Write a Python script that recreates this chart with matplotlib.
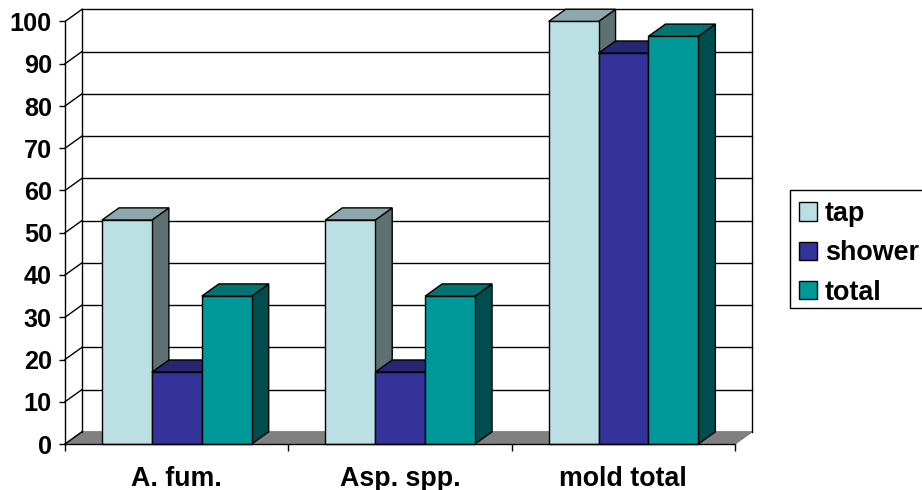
import matplotlib
matplotlib.use("Agg")
import matplotlib.pyplot as plt
from matplotlib.patches import Polygon, Patch, Rectangle

plt.rcParams['font.family'] = ['Liberation Sans', 'DejaVu Sans']
plt.rcParams['font.weight'] = 'bold'

categories = ['A. fum.', 'Asp. spp.', 'mold total']
series_names = ['tap', 'shower', 'total']
tap = [53, 53, 100]
shower = [17, 17, 92.5]
total = [35, 35, 96.5]
y_ticks = [0, 10, 20, 30, 40, 50, 60, 70, 80, 90, 100]

front_colors = ['#BBE0E3', '#333399', '#009999']
top_colors = ['#8CA8AA', '#262673', '#007373']
side_colors = ['#5E7072', '#1A1A4D', '#004D4D']

W, H = 922, 490
fig = plt.figure(figsize=(W / 100, H / 100), dpi=100)
ax = fig.add_axes([65 / W, (H - 444) / H, 670 / W, 422.5 / H])
ax.set_xlim(0, 3)
ax.set_ylim(0, 100)

# depth of the fake 3d box, in data units
DX = 17 / (670 / 3)
DY = 12.2 / 4.225
BAR_W = 0.2235
GROUP_START = 0.1655
LW = 1.0
FS = 18.2
FS_CAT = 19.3
FS_LEG = 19.4


def poly(points, color, z, edge='black'):
    ax.add_patch(Polygon(points, closed=True, facecolor=color, edgecolor=edge,
                         linewidth=LW, zorder=z, clip_on=False))


# floor
poly([(0, 0), (DX, DY), (3 + DX, DY), (3, 0)], '#808080', 1, edge='#808080')

# back wall grid and side wall diagonals
for v in y_ticks:
    if v > 0:
        ax.plot([DX, 3 + DX], [v + DY, v + DY], color='black', lw=LW, zorder=2, clip_on=False)
    ax.plot([0, DX], [v, v + DY], color='black', lw=LW, zorder=2, clip_on=False)
ax.plot([DX, DX], [DY, 100 + DY], color='black', lw=LW, zorder=2, clip_on=False)
ax.plot([3 + DX, 3 + DX], [DY, 100 + DY], color='black', lw=LW, zorder=2, clip_on=False)

# bars
z = 3
for g in range(len(categories)):
    for s, values in enumerate([tap, shower, total]):
        v = values[g]
        x0 = g + GROUP_START + s * BAR_W
        x1 = x0 + BAR_W
        poly([(x1, 0), (x1 + DX, DY), (x1 + DX, v + DY), (x1, v)], side_colors[s], z)
        poly([(x0, v), (x0 + DX, v + DY), (x1 + DX, v + DY), (x1, v)], top_colors[s], z)
        ax.bar(x0, v, width=BAR_W, align='edge', color=front_colors[s],
               edgecolor='black', linewidth=LW, zorder=z + 0.5, clip_on=False)
        z += 1

for side in ['top', 'right']:
    ax.spines[side].set_visible(False)
for side in ['left', 'bottom']:
    ax.spines[side].set_linewidth(LW)
    ax.spines[side].set_zorder(50)

ax.set_yticks(y_ticks)
ax.tick_params(axis='y', length=4.5, width=LW, pad=5, labelsize=FS)
ax.set_xticks([0, 1, 2, 3])
ax.set_xticklabels([])
ax.set_xticks([0.5, 1.5, 2.5], labels=categories, minor=True)
ax.tick_params(axis='x', which='major', length=5, width=LW)
ax.tick_params(axis='x', which='minor', length=0, pad=15.5, labelsize=FS_CAT)

# legend box runs off the right edge, so the frame is drawn on its own
fig.add_artist(Rectangle((790 / W, (H - 308) / H), 140 / W, 118 / H, transform=fig.transFigure,
                         facecolor='white', edgecolor='black', linewidth=LW))
handles = [Patch(facecolor=c, edgecolor='black', linewidth=LW) for c in front_colors]
leg = fig.legend(handles, series_names, loc='upper left',
                 bbox_to_anchor=(790 / W, (H - 192) / H), bbox_transform=fig.transFigure,
                 fontsize=FS_LEG, frameon=False, borderaxespad=0, borderpad=0.33,
                 handlelength=0.66, handleheight=0.66, handletextpad=0.3, labelspacing=0.5)

fig.savefig('out.png', dpi=100)
